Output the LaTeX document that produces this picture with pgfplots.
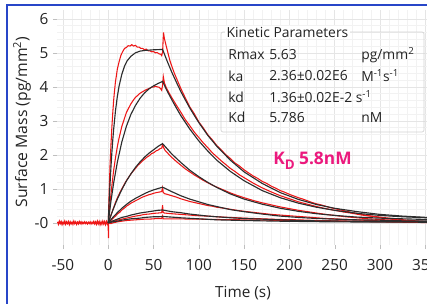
\documentclass[border=0pt]{standalone}
\usepackage{fontspec}
\setmainfont{Open Sans}
\usepackage{pgfplots}
\pgfplotsset{compat=1.18}
\definecolor{fitc}{RGB}{45,45,45}
\definecolor{datac}{RGB}{238,22,22}
\definecolor{kdc}{RGB}{235,25,125}
\definecolor{frameblue}{RGB}{40,70,200}
\definecolor{txt}{RGB}{35,35,35}
\begin{document}
\begin{tikzpicture}
\useasboundingbox (-42.75pt,-43.5pt) rectangle (277.5pt,183.75pt);
\begin{axis}[
  at={(0pt,0pt)}, anchor=south west, scale only axis,
  width=277.5pt, height=176.25pt,
  xmin=-56.6, xmax=352, ymin=-0.65, ymax=6.26,
  axis line style={draw=none},
  xtick={-50,0,50,100,150,200,250,300,350},
  xticklabels={-50,0,50,100,150,200,250,300,350},
  ytick={0,1,2,3,4,5,6}, yticklabels={-0,1,2,3,4,5,6},
  minor x tick num=4, minor y tick num=4,
  grid=both,
  major grid style={gray!20, line width=0.4pt},
  minor grid style={gray!10, line width=0.4pt},
  tick align=outside, xtick pos=bottom, ytick pos=left,
  major tick length=3pt, minor tick length=0pt,
  tick style={gray!50},
  tick label style={font=\fontsize{11.5}{13}\selectfont, text=txt},
  xticklabel style={yshift=-4pt},
  clip=true,
]
% red measured data
\addplot[datac, line width=0.9pt] coordinates {(-56,0.03)(-55,-0.04)(-54,0.05)(-53,-0.02)(-52,0.04)(-51,-0.05)(-50,0.02)(-49,-0.03)(-48,0.05)(-47,-0.04)(-46,0.03)(-45,-0.02)(-44,0.04)(-43,-0.05)(-42,0.03)(-41,-0.03)(-40,0.02)(-39,-0.04)(-38,0.05)(-37,-0.02)(-36,0.03)(-35,-0.04)(-34,0.02)(-33,-0.03)(-32,0.04)(-31,-0.02)(-30,0.03)(-29,-0.03)(-28,0.02)(-27,-0.02)(-26,0.03)(-25,-0.02)(-24,0.02)(-23,-0.03)(-22,0.02)(-21,-0.02)(-20,0.03)(-19,-0.03)(-18,0.02)(-17,-0.02)(-16,0.04)(-15,-0.03)(-14,0.03)(-13,-0.04)(-12,0.05)(-11,-0.03)(-10,0.04)(-9,-0.05)(-8,0.03)(-7,-0.04)(-6,0.05)(-5,-0.03)(-4,0.04)(-3,-0.05)(-2,0.04)(-1,-0.03)(0,0.02)(0.2,-0.45)(0.4,0.0)};
\addplot[datac, line width=0.8pt] coordinates {(0,0)(1,0.9)(2,1.72)(3,2.3)(4,2.82)(5,3.24)(6,3.62)(7,3.9)(8,4.16)(9,4.33)(10,4.52)(12,4.74)(14,4.93)(16,5.04)(18,5.13)(20,5.16)(22,5.21)(24,5.2)(26,5.24)(28,5.2)(30,5.22)(32,5.17)(34,5.17)(36,5.13)(38,5.13)(40,5.09)(42,5.11)(44,5.06)(46,5.06)(48,5.03)(50,5.04)(52,5.0)(54,5.01)(56,4.97)(58,4.96)(59,4.92)(60,5.02)(61,5.6)(62,5.42)(64,5.2)(66,4.99)(68,4.78)(70,4.62)(73,4.4)(76,4.21)(80,3.96)(85,3.68)(90,3.41)(95,3.21)(100,2.97)(105,2.79)(110,2.59)(115,2.44)(120,2.27)(125,2.14)(130,2.0)(135,1.89)(140,1.76)(145,1.67)(150,1.56)(155,1.47)(160,1.38)(165,1.31)(170,1.22)(175,1.16)(180,1.08)(185,1.02)(190,0.95)(195,0.9)(200,0.84)(205,0.79)(210,0.74)(215,0.7)(220,0.65)(225,0.6)(230,0.56)(235,0.53)(240,0.49)(245,0.45)(250,0.42)(255,0.39)(260,0.36)(265,0.33)(270,0.3)(275,0.28)(280,0.25)(285,0.22)(290,0.2)(295,0.18)(300,0.16)(305,0.13)(310,0.12)(315,0.1)(320,0.09)(325,0.07)(330,0.06)(335,0.05)(340,0.04)(345,0.03)(352,0.02)};
\addplot[datac, line width=0.8pt] coordinates {(0,0)(2,0.58)(4,1.1)(6,1.55)(8,1.92)(10,2.24)(12,2.5)(15,2.84)(18,3.08)(20,3.24)(23,3.4)(25,3.5)(28,3.62)(30,3.69)(33,3.76)(35,3.81)(38,3.86)(40,3.89)(43,3.93)(45,3.95)(48,3.99)(50,3.99)(52,4.02)(54,4.0)(56,3.99)(58,3.94)(59,3.9)(60,4.05)(60.8,4.3)(62,4.12)(64,3.98)(67,3.83)(70,3.69)(75,3.47)(80,3.26)(85,3.04)(90,2.86)(95,2.67)(100,2.51)(105,2.35)(110,2.21)(115,2.06)(120,1.94)(125,1.82)(130,1.71)(135,1.6)(140,1.51)(145,1.41)(150,1.33)(160,1.17)(170,1.03)(180,0.91)(190,0.8)(200,0.71)(210,0.62)(220,0.55)(230,0.48)(240,0.42)(250,0.37)(260,0.32)(270,0.28)(280,0.23)(290,0.2)(300,0.17)(310,0.14)(320,0.11)(330,0.08)(340,0.06)(352,0.04)};
\addplot[datac, line width=0.8pt] coordinates {(0,0)(2,0.15)(5,0.38)(8,0.6)(10,0.73)(13,0.9)(15,1.0)(18,1.15)(20,1.24)(23,1.36)(25,1.44)(28,1.54)(30,1.6)(33,1.7)(35,1.75)(38,1.83)(40,1.87)(43,1.94)(45,1.97)(48,2.04)(50,2.06)(53,2.12)(55,2.14)(57,2.18)(59,2.2)(60,2.3)(61,2.22)(63,2.12)(66,2.04)(70,1.93)(75,1.81)(80,1.7)(85,1.59)(90,1.5)(95,1.41)(100,1.33)(105,1.25)(110,1.18)(115,1.11)(120,1.05)(128,0.96)(135,0.88)(142,0.81)(150,0.74)(160,0.66)(170,0.59)(180,0.53)(190,0.47)(200,0.42)(210,0.37)(220,0.33)(230,0.29)(240,0.25)(250,0.22)(262,0.18)(275,0.15)(287,0.12)(300,0.1)(312,0.08)(325,0.06)(338,0.04)(352,0.03)};
\addplot[datac, line width=0.8pt] coordinates {(0,0)(3,0.07)(5,0.13)(8,0.2)(10,0.26)(13,0.32)(15,0.38)(18,0.44)(20,0.49)(23,0.54)(25,0.58)(28,0.62)(30,0.65)(33,0.69)(35,0.72)(38,0.76)(40,0.78)(43,0.81)(45,0.83)(48,0.85)(50,0.87)(53,0.89)(55,0.9)(57,0.91)(59,0.92)(60,1.03)(60.7,0.9)(62,0.86)(65,0.84)(70,0.8)(75,0.76)(80,0.71)(85,0.67)(90,0.63)(95,0.6)(100,0.57)(105,0.54)(110,0.51)(115,0.49)(120,0.46)(128,0.43)(135,0.4)(142,0.37)(150,0.34)(160,0.31)(170,0.28)(180,0.25)(190,0.23)(200,0.21)(210,0.19)(220,0.17)(230,0.15)(240,0.13)(250,0.12)(262,0.1)(275,0.09)(287,0.07)(300,0.06)(312,0.05)(325,0.04)(338,0.03)(352,0.02)};
\addplot[datac, line width=0.8pt] coordinates {(0,0)(3,0.02)(5,0.04)(8,0.06)(10,0.08)(15,0.11)(20,0.14)(25,0.17)(30,0.2)(35,0.22)(40,0.25)(45,0.26)(50,0.28)(55,0.29)(59,0.3)(60,0.52)(60.6,0.31)(62,0.29)(66,0.28)(70,0.27)(80,0.25)(90,0.23)(100,0.21)(110,0.2)(120,0.18)(135,0.16)(150,0.14)(170,0.12)(190,0.1)(210,0.09)(230,0.07)(250,0.06)(275,0.05)(300,0.04)(325,0.03)(352,0.02)};
\addplot[datac, line width=0.8pt] coordinates {(0,0)(3,-0.02)(5,0.0)(10,0.03)(15,0.05)(20,0.07)(25,0.08)(30,0.09)(35,0.1)(40,0.11)(45,0.11)(50,0.12)(55,0.13)(59,0.13)(60,0.2)(60.6,0.12)(65,0.12)(70,0.12)(80,0.12)(90,0.11)(100,0.11)(120,0.1)(150,0.09)(175,0.08)(200,0.07)(225,0.06)(250,0.05)(275,0.04)(300,0.03)(325,0.02)(352,0.01)};
% black fitted curves
\addplot[fitc, line width=0.85pt] coordinates {(0,0)(1,0.62)(2,1.17)(3,1.65)(4,2.07)(5,2.44)(6,2.76)(8,3.30)(10,3.71)(12,4.03)(15,4.37)(18,4.61)(21,4.77)(25,4.90)(30,5.00)(35,5.05)(40,5.07)(50,5.09)(60,5.10)(65,4.76)(70,4.44)(75,4.15)(80,3.87)(85,3.62)(90,3.38)(95,3.16)(100,2.95)(110,2.57)(120,2.25)(135,1.84)(150,1.50)(170,1.16)(190,0.89)(210,0.69)(230,0.54)(250,0.43)(275,0.33)(300,0.25)(325,0.20)(352,0.16)};
\addplot[fitc, line width=0.85pt] coordinates {(0,0)(3,0.64)(6,1.18)(10,1.78)(15,2.38)(20,2.84)(25,3.19)(30,3.45)(35,3.66)(40,3.82)(45,3.94)(50,4.03)(55,4.10)(60,4.16)(65,3.88)(70,3.63)(75,3.39)(80,3.16)(90,2.76)(100,2.41)(110,2.11)(120,1.84)(135,1.51)(150,1.24)(170,0.95)(190,0.74)(210,0.58)(230,0.46)(250,0.37)(275,0.28)(300,0.22)(325,0.18)(352,0.15)};
\addplot[fitc, line width=0.85pt] coordinates {(0,0)(5,0.37)(10,0.70)(15,0.98)(20,1.23)(25,1.44)(30,1.63)(35,1.79)(40,1.93)(45,2.05)(50,2.15)(55,2.25)(60,2.33)(70,2.03)(80,1.78)(90,1.55)(100,1.36)(110,1.19)(120,1.04)(135,0.85)(150,0.70)(170,0.55)(190,0.43)(210,0.34)(230,0.27)(250,0.22)(275,0.17)(300,0.14)(325,0.12)(352,0.10)};
\addplot[fitc, line width=0.85pt] coordinates {(0,0)(5,0.16)(10,0.30)(15,0.43)(20,0.54)(25,0.64)(30,0.72)(35,0.79)(40,0.86)(45,0.92)(50,0.97)(55,1.01)(60,1.05)(70,0.92)(80,0.80)(90,0.70)(100,0.62)(110,0.54)(120,0.48)(135,0.39)(150,0.33)(170,0.26)(190,0.20)(210,0.16)(230,0.13)(250,0.11)(275,0.09)(300,0.08)(325,0.06)(352,0.06)};
\addplot[fitc, line width=0.85pt] coordinates {(0,0)(5,0.06)(10,0.11)(15,0.16)(20,0.19)(25,0.23)(30,0.26)(35,0.29)(40,0.31)(45,0.33)(50,0.35)(55,0.37)(60,0.38)(70,0.33)(80,0.30)(90,0.26)(100,0.23)(110,0.20)(120,0.18)(135,0.15)(150,0.13)(170,0.11)(190,0.09)(210,0.07)(230,0.06)(250,0.055)(300,0.04)(352,0.035)};
\addplot[fitc, line width=0.85pt] coordinates {(0,0)(5,0.03)(10,0.05)(15,0.08)(20,0.10)(25,0.12)(30,0.13)(35,0.14)(40,0.16)(45,0.17)(50,0.18)(55,0.18)(60,0.19)(70,0.17)(80,0.15)(100,0.12)(120,0.09)(150,0.07)(190,0.05)(250,0.03)(352,0.02)};
\end{axis}
% frame
\draw[frameblue, line width=1.6pt] (-37.5pt,-45pt) -- (-37.5pt,180pt) -- (280pt,180pt);
% axis labels
\node[rotate=90, text=txt, font=\fontsize{11.8}{13}\selectfont] at (-26.25pt,92.25pt) {Surface Mass (pg/mm\textsuperscript{2})};
\node[text=txt, font=\fontsize{11.5}{13}\selectfont] at (139.5pt,-36pt) {Time (s)};
% parameter box
\draw[gray!35, line width=0.5pt, rounded corners=1.5pt] (123pt,84.75pt) rectangle (275.25pt,159.75pt);
\begin{scope}[every node/.style={text=txt, font=\fontsize{10.4}{12}\selectfont, anchor=west, inner sep=0pt}]
\node[fill=white, inner xsep=1pt, inner ysep=1pt] at (126pt,159.75pt) {Kinetic Parameters};
\node at (128.25pt,142.5pt) {Rmax};
\node at (159pt,142.5pt) {5.63};
\node at (228pt,142.5pt) {pg/mm\textsuperscript{2}};
\node at (128.25pt,126.8pt) {ka};
\node at (159pt,126.8pt) {2.36±0.02E6};
\node at (228pt,126.8pt) {M\textsuperscript{-1}s\textsuperscript{-1}};
\node at (128.25pt,111.1pt) {kd};
\node at (159pt,111.1pt) {1.36±0.02E-2 s\textsuperscript{-1}};
\node at (128.25pt,95.4pt) {Kd};
\node at (159pt,95.4pt) {5.786};
\node at (228pt,95.4pt) {nM};
\end{scope}
\node[anchor=base west, inner sep=0pt, text=kdc, font=\bfseries\fontsize{13}{15}\selectfont] at (162pt,60pt) {K\raisebox{-0.45ex}{\fontsize{10}{12}\selectfont D} 5.8nM};
\end{tikzpicture}
\end{document}
